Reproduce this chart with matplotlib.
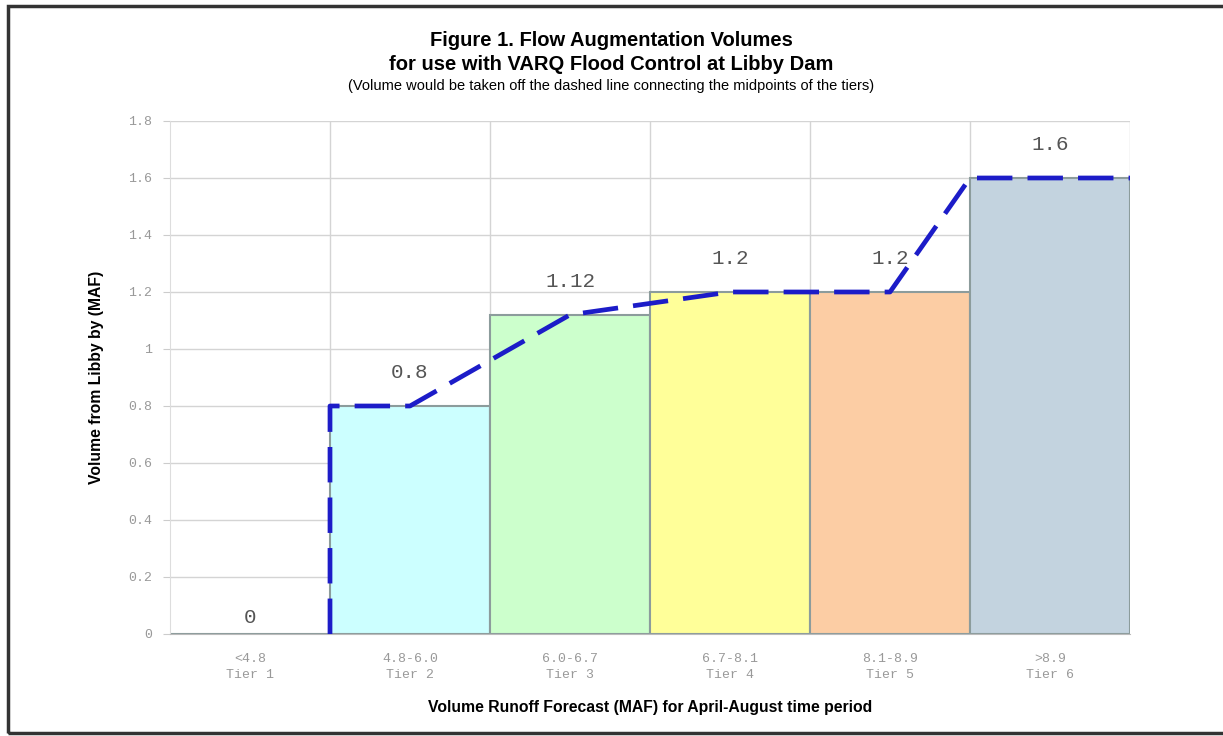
import matplotlib.pyplot as plt
from matplotlib.patches import Rectangle

# Data
ranges = ['<4.8', '4.8-6.0', '6.0-6.7', '6.7-8.1', '8.1-8.9', '>8.9']
tiers = ['Tier 1', 'Tier 2', 'Tier 3', 'Tier 4', 'Tier 5', 'Tier 6']
volumes = [0, 0.8, 1.12, 1.2, 1.2, 1.6]
value_labels = ['0', '0.8', '1.12', '1.2', '1.2', '1.6']
bar_colors = ['#ffffff', '#ccffff', '#ccffcc', '#ffff99', '#fccda4', '#c3d3df']

# dashed line through the tier midpoints (x in category units)
line_x = [0.5, 0.5, 1.0, 2.0, 3.0, 4.0, 4.5, 5.5]
line_y = [0, 0.8, 0.8, 1.12, 1.2, 1.2, 1.6, 1.6]

yticks = [0, 0.2, 0.4, 0.6, 0.8, 1.0, 1.2, 1.4, 1.6, 1.8]
ytick_labels = ['0', '0.2', '0.4', '0.6', '0.8', '1', '1.2', '1.4', '1.6', '1.8']

mono = 'Liberation Mono'
sans = 'Liberation Sans'

fig = plt.figure(figsize=(12.23, 7.36), dpi=100)
ax = fig.add_axes([170 / 1223, 0.1386, 960 / 1223, 0.697])

x = list(range(len(volumes)))
ax.bar(x, volumes, width=1.0, color=bar_colors, edgecolor='#8c9c9c',
       linewidth=1.5, zorder=2)
ax.plot(line_x, line_y, color='#1c1cc8', linewidth=3.4,
        dashes=(7.5, 3.2), zorder=4)

for xi, v, lab in zip(x, volumes, value_labels):
    off = 12 if v == 0 else 24
    ax.annotate(lab, (xi, v), xytext=(0, off), textcoords='offset points',
                ha='center', va='center', fontsize=15, family=mono,
                color='#555555', zorder=5)

ax.set_xlim(-0.5, 5.5)
ax.set_ylim(0, 1.8)
ax.set_yticks(yticks)
ax.set_yticklabels(ytick_labels, family=mono, fontsize=9.5, color='#999999')
ax.set_xticks(x)
ax.set_xticklabels([r + '\n' + t for r, t in zip(ranges, tiers)],
                   family=mono, fontsize=9.5, color='#999999', linespacing=1.35)
ax.set_xticks([i + 0.5 for i in x], minor=True)
ax.tick_params(axis='x', which='both', length=0, pad=14)
ax.tick_params(axis='y', length=5, color='#cccccc', pad=8)

ax.grid(axis='y', which='major', color='#d4d4d4', linewidth=1, zorder=0)
ax.grid(axis='x', which='minor', color='#d4d4d4', linewidth=1, zorder=0)
ax.set_axisbelow(True)
for side in ['top', 'right']:
    ax.spines[side].set_visible(False)
ax.spines['left'].set_color('#dddddd')
ax.spines['bottom'].set_color('#bbbbbb')

ax.set_xlabel('Volume Runoff Forecast (MAF) for April-August time period',
              family=sans, fontweight='bold', fontsize=11.3, labelpad=14)
ax.set_ylabel('Volume from Libby by (MAF)', family=sans, fontweight='bold',
              fontsize=11.3, labelpad=17)

fig.text(0.5, 1 - 41 / 736, 'Figure 1. Flow Augmentation Volumes',
         ha='center', va='center', family=sans, fontweight='bold',
         fontsize=14.5)
fig.text(0.5, 1 - 65 / 736, 'for use with VARQ Flood Control at Libby Dam',
         ha='center', va='center', family=sans, fontweight='bold',
         fontsize=14.5)
fig.text(0.5, 1 - 86 / 736, '(Volume would be taken off the dashed line '
         'connecting the midpoints of the tiers)', ha='center', va='center',
         family=sans, fontsize=10.5)

# outer frame
fig.patches.append(Rectangle((0.0065, 0.004), 1.0, 0.988,
                             transform=fig.transFigure, fill=False,
                             edgecolor='#333333', linewidth=2.5))

fig.savefig('out.png', dpi=100)
